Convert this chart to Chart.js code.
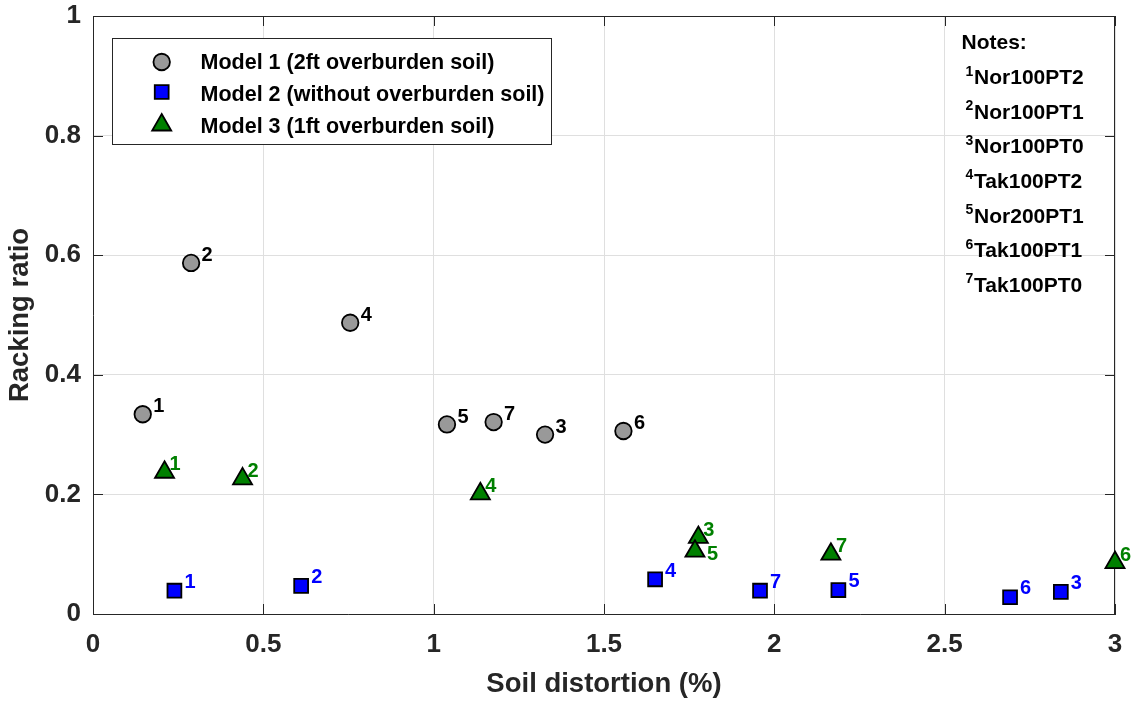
<!DOCTYPE html>
<html><head><meta charset="utf-8">
<script src="https://cdn.jsdelivr.net/npm/chart.js@4.4.0/dist/chart.umd.min.js"></script>
<style>html,body{margin:0;padding:0;background:#fff;} #wrap{width:1142px;height:703px;position:relative;}</style>
</head><body><div id="wrap"><canvas id="c" width="1142" height="703"></canvas></div>
<script>
// ---- data ----
const xTicks = [0, 0.5, 1, 1.5, 2, 2.5, 3];
const xTickLabels = ['0', '0.5', '1', '1.5', '2', '2.5', '3'];
const yTicks = [0, 0.2, 0.4, 0.6, 0.8, 1];
const yTickLabels = ['0', '0.2', '0.4', '0.6', '0.8', '1'];

const legendLabels = ['Model 1 (2ft overburden soil)', 'Model 2 (without overburden soil)', 'Model 3 (1ft overburden soil)'];

const model1Labels = ['1', '2', '4', '5', '7', '3', '6'];
const model1X = [0.146, 0.288, 0.755, 1.039, 1.176, 1.327, 1.557];
const model1Y = [0.334, 0.587, 0.487, 0.317, 0.321, 0.300, 0.306];

const model2Labels = ['1', '2', '4', '7', '5', '6', '3'];
const model2X = [0.239, 0.611, 1.650, 1.958, 2.188, 2.692, 2.841];
const model2Y = [0.039, 0.047, 0.058, 0.039, 0.040, 0.028, 0.037];

const model3Labels = ['1', '2', '4', '3', '5', '7', '6'];
const model3X = [0.210, 0.439, 1.137, 1.777, 1.767, 2.166, 3.0];
const model3Y = [0.237, 0.226, 0.201, 0.128, 0.105, 0.100, 0.086];

const noteTitle = 'Notes:';
const noteIndex = ['1', '2', '3', '4', '5', '6', '7'];
const noteCodes = ['Nor100PT2', 'Nor100PT1', 'Nor100PT0', 'Tak100PT2', 'Nor200PT1', 'Tak100PT1', 'Tak100PT0'];

const xTitle = 'Soil distortion (%)';
const yTitle = 'Racking ratio';

// ---- styles ----
const FONT = '"Liberation Sans", Arial, Helvetica, sans-serif';
const AXIS_COLOR = '#262626';
const GRID_COLOR = '#dfdfdf';
const seriesStyle = [
  { style: 'circle', radius: 8.25, fill: '#999999', labelColor: '#000000', dx: 10.5, dy: -9 },
  { style: 'rect', radius: 9.8, fill: '#0000ff', labelColor: '#0000ff', dx: 10, dy: -10 },
  { style: 'triangle', radius: 11, fill: '#008000', labelColor: '#008000', dx: 5, dy: -9 }
];
const labelOverrides = { '2:5': { dx: 12, dy: 2 } };

function pts(xs, ys) { return xs.map((x, i) => ({ x: x, y: ys[i] })); }

function drawMarker(ctx, style, r, x, y, fill) {
  ctx.save();
  ctx.beginPath();
  if (style === 'circle') {
    ctx.arc(x, y, r, 0, Math.PI * 2);
  } else if (style === 'rect') {
    const s = Math.SQRT1_2 * r;
    ctx.rect(x - s, y - s, 2 * s, 2 * s);
  } else {
    let rad = 0;
    const t = 2 * Math.PI / 3;
    ctx.moveTo(x + Math.sin(rad) * r, y - Math.cos(rad) * r);
    rad += t; ctx.lineTo(x + Math.sin(rad) * r, y - Math.cos(rad) * r);
    rad += t; ctx.lineTo(x + Math.sin(rad) * r, y - Math.cos(rad) * r);
    ctx.closePath();
  }
  ctx.fillStyle = fill;
  ctx.fill();
  ctx.lineWidth = 1.8;
  ctx.strokeStyle = '#000';
  ctx.stroke();
  ctx.restore();
}

const seriesData = [pts(model1X, model1Y), pts(model2X, model2Y), pts(model3X, model3Y)];
const seriesLabels = [model1Labels, model2Labels, model3Labels];

const datasets = seriesData.map((d, i) => ({
  label: legendLabels[i],
  data: d,
  pointStyle: seriesStyle[i].style,
  pointRadius: seriesStyle[i].radius,
  pointHoverRadius: seriesStyle[i].radius,
  pointBackgroundColor: seriesStyle[i].fill,
  pointBorderColor: '#000',
  pointBorderWidth: 1.8,
  showLine: false,
  clip: false
}));

const framePlugin = {
  id: 'frame',
  beforeDatasetsDraw(chart) {
    const { ctx, chartArea: a, scales: { x, y } } = chart;
    ctx.save();
    ctx.strokeStyle = AXIS_COLOR;
    ctx.lineWidth = 1;
    ctx.beginPath();
    ctx.moveTo(a.left, a.top + 0.5); ctx.lineTo(a.right, a.top + 0.5);
    ctx.moveTo(a.right - 0.5, a.top); ctx.lineTo(a.right - 0.5, a.bottom);
    const L = 10;
    xTicks.forEach(v => {
      const px = Math.round(x.getPixelForValue(v)) + 0.5;
      ctx.moveTo(px, a.bottom); ctx.lineTo(px, a.bottom - L);
      ctx.moveTo(px, a.top); ctx.lineTo(px, a.top + L);
    });
    yTicks.forEach(v => {
      const py = Math.round(y.getPixelForValue(v)) + 0.5;
      ctx.moveTo(a.left, py); ctx.lineTo(a.left + L, py);
      ctx.moveTo(a.right, py); ctx.lineTo(a.right - L, py);
    });
    ctx.stroke();
    ctx.restore();
  }
};

const labelPlugin = {
  id: 'pointLabels',
  afterDatasetsDraw(chart) {
    const ctx = chart.ctx;
    ctx.save();
    ctx.font = 'bold 20px ' + FONT;
    ctx.textAlign = 'left';
    ctx.textBaseline = 'alphabetic';
    chart.data.datasets.forEach((ds, i) => {
      const meta = chart.getDatasetMeta(i);
      const st = seriesStyle[i];
      ctx.fillStyle = st.labelColor;
      meta.data.forEach((el, j) => {
        const lab = seriesLabels[i][j];
        const ov = labelOverrides[i + ':' + lab] || {};
        const dx = ov.dx !== undefined ? ov.dx : st.dx;
        const dy = ov.dy !== undefined ? ov.dy : st.dy;
        ctx.fillText(lab, el.x + dx, el.y + dy + 7.2);
      });
    });
    ctx.restore();
  }
};

const overlayPlugin = {
  id: 'overlay',
  afterDraw(chart) {
    const ctx = chart.ctx;
    ctx.save();
    // legend
    ctx.fillStyle = '#fff';
    ctx.fillRect(112.5, 38.5, 439, 106);
    ctx.strokeStyle = AXIS_COLOR;
    ctx.lineWidth = 1;
    ctx.strokeRect(112.5, 38.5, 439, 106);
    const rowY = [62, 92, 125];
    const textY = [61.7, 93.3, 125];
    ctx.font = 'bold 21.5px ' + FONT;
    ctx.textAlign = 'left';
    ctx.textBaseline = 'alphabetic';
    legendLabels.forEach((t, i) => {
      const st = seriesStyle[i];
      drawMarker(ctx, st.style, st.radius, 161.7, rowY[i], st.fill);
      ctx.fillStyle = '#000';
      ctx.fillText(t, 200.5, textY[i] + 7.7);
    });
    // notes
    ctx.fillStyle = '#000';
    ctx.font = 'bold 21px ' + FONT;
    ctx.fillText(noteTitle, 961.5, 49.2);
    noteCodes.forEach((code, k) => {
      const base = 84.2 + 34.6 * k;
      ctx.font = 'bold 14px ' + FONT;
      ctx.fillText(noteIndex[k], 965.5, base - 8.7);
      const w = ctx.measureText(noteIndex[k]).width;
      ctx.font = 'bold 21px ' + FONT;
      ctx.fillText(code, 965.5 + w + 0.8, base);
    });
    ctx.restore();
  }
};

new Chart(document.getElementById('c'), {
  type: 'scatter',
  data: { datasets: datasets },
  options: {
    responsive: false,
    animation: false,
    devicePixelRatio: 1,
    events: [],
    layout: { padding: { top: 16, right: 27, left: 0, bottom: 0 } },
    plugins: { legend: { display: false }, tooltip: { enabled: false } },
    scales: {
      x: {
        type: 'linear', min: 0, max: 3,
        afterBuildTicks(s) { s.ticks = xTicks.map(v => ({ value: v })); },
        afterFit(s) { s.height = 89; s.paddingLeft = 0; s.paddingRight = 0; },
        ticks: {
          padding: 15, color: AXIS_COLOR, maxRotation: 0, autoSkip: false,
          font: { family: FONT, size: 26, weight: 'bold' },
          callback: (v) => xTickLabels[xTicks.indexOf(v)]
        },
        grid: { color: GRID_COLOR, lineWidth: 1, drawTicks: false },
        border: { display: true, color: AXIS_COLOR, width: 1 },
        title: { display: true, text: xTitle, color: AXIS_COLOR, padding: { top: 0, bottom: 2 },
          font: { family: FONT, size: 27.5, weight: 'bold' } }
      },
      y: {
        type: 'linear', min: 0, max: 1,
        afterBuildTicks(s) { s.ticks = yTicks.map(v => ({ value: v })); },
        afterFit(s) { s.width = 93; s.paddingTop = 0; s.paddingBottom = 0; },
        ticks: {
          padding: 12, color: AXIS_COLOR, autoSkip: false,
          font: { family: FONT, size: 26, weight: 'bold' },
          callback: (v) => yTickLabels[yTicks.indexOf(v)]
        },
        grid: { color: GRID_COLOR, lineWidth: 1, drawTicks: false },
        border: { display: true, color: AXIS_COLOR, width: 1 },
        title: { display: true, text: yTitle, color: AXIS_COLOR, padding: { top: 4, bottom: 0 },
          font: { family: FONT, size: 27.5, weight: 'bold' } }
      }
    }
  },
  plugins: [framePlugin, labelPlugin, overlayPlugin]
});
</script>
</body></html>
